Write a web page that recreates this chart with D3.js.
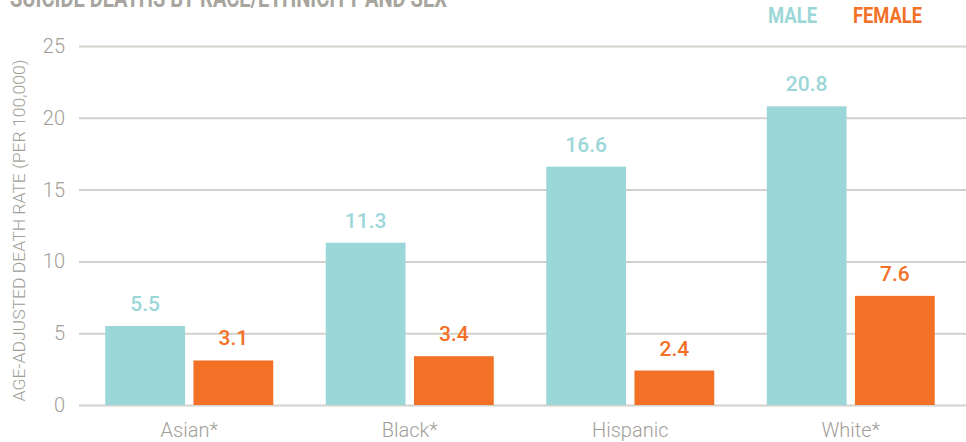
<!DOCTYPE html>
<html>
<head>
<meta charset="utf-8">
<script src="https://cdn.jsdelivr.net/npm/d3@7"></script>
<style>
  html, body { margin: 0; padding: 0; background: #fff; }
  svg { display: block; font-family: Roboto, "Noto Sans", sans-serif; }
</style>
</head>
<body>
<svg id="chart" width="966" height="442"></svg>
<script>
// Suicide deaths by race/ethnicity and sex (age-adjusted rate per 100,000)
const categories = ["Asian*", "Black*", "Hispanic", "White*"];
const series = ["MALE", "FEMALE"];
const maleValues = [5.5, 11.3, 16.6, 20.8];
const femaleValues = [3.1, 3.4, 2.4, 7.6];
const yTicks = [0, 5, 10, 15, 20, 25];
const title = "SUICIDE DEATHS BY RACE/ETHNICITY AND SEX";
const yLabel = "AGE-ADJUSTED DEATH RATE (PER 100,000)";

const colors = { MALE: "#9bd7d8", FEMALE: "#f37027" };
const grey = "#a19e97";

const rows = categories.map((c, i) => ({ cat: c, MALE: maleValues[i], FEMALE: femaleValues[i] }));

const svg = d3.select("#chart");
const margin = { left: 79, right: 5, top: 46, bottom: 37 };
const W = 966, H = 442;

const x0 = d3.scaleBand().domain(categories).range([margin.left, W - margin.right]).paddingInner(0).paddingOuter(0);
const innerPad = (x0.bandwidth() - 168) / 2;
const x1 = d3.scaleBand().domain(series).range([innerPad, x0.bandwidth() - innerPad]).paddingInner(8 / 84);
const y = d3.scaleLinear().domain([0, 25]).range([H - margin.bottom, margin.top]);

// Title (runs off the top edge)
svg.append("text")
  .attr("x", 10).attr("y", 7)
  .attr("textLength", 437).attr("lengthAdjust", "spacingAndGlyphs")
  .attr("font-size", 26).attr("font-weight", 700)
  .attr("fill", "#a8a59e")
  .text(title);

// Legend
const legend = [
  { key: "MALE", x: 768, len: 49 },
  { key: "FEMALE", x: 853, len: 69 }
];
svg.selectAll("text.legend").data(legend).join("text")
  .attr("class", "legend")
  .attr("x", d => d.x).attr("y", 23)
  .attr("textLength", d => d.len).attr("lengthAdjust", "spacingAndGlyphs")
  .attr("font-size", 22).attr("font-weight", 700)
  .attr("fill", d => colors[d.key])
  .text(d => d.key);

// Gridlines and tick labels
const yAxis = d3.axisLeft(y).tickValues(yTicks).tickSize(-(W - margin.left)).tickPadding(14);
const ga = svg.append("g").attr("transform", `translate(${margin.left},0)`).call(yAxis);
ga.select(".domain").remove();
ga.selectAll(".tick line").attr("stroke", "#d3d1cb").attr("stroke-width", 2);
ga.selectAll(".tick text")
  .attr("fill", grey).attr("font-size", 20).attr("font-weight", 300)
  .attr("font-family", "Roboto, sans-serif");

// Y axis title
svg.append("text")
  .attr("transform", `translate(25,${(y(0) + y(25)) / 2 + 5}) rotate(-90)`)
  .attr("text-anchor", "middle")
  .attr("textLength", 342).attr("lengthAdjust", "spacingAndGlyphs")
  .attr("font-size", 17).attr("font-weight", 300)
  .attr("fill", grey)
  .text(yLabel);

// Bars
const groups = svg.append("g").selectAll("g").data(rows).join("g")
  .attr("transform", d => `translate(${x0(d.cat)},0)`);

const cells = groups.selectAll("g").data(d => series.map(s => ({ key: s, value: d[s] }))).join("g");

cells.append("rect")
  .attr("x", d => x1(d.key))
  .attr("y", d => y(d.value))
  .attr("width", x1.bandwidth())
  .attr("height", d => y(0) - y(d.value))
  .attr("fill", d => colors[d.key]);

// Value labels
cells.append("text")
  .attr("x", d => x1(d.key) + x1.bandwidth() / 2)
  .attr("y", d => y(d.value) - 15)
  .attr("text-anchor", "middle")
  .attr("font-size", 21).attr("font-weight", 500)
  .attr("fill", d => colors[d.key])
  .text(d => d.value.toFixed(1));

// Category labels
svg.append("g").selectAll("text").data(categories).join("text")
  .attr("x", d => x0(d) + x0.bandwidth() / 2)
  .attr("y", 437)
  .attr("text-anchor", "middle")
  .attr("font-size", 20).attr("font-weight", 300)
  .attr("fill", grey)
  .text(d => d);
</script>
</body>
</html>
